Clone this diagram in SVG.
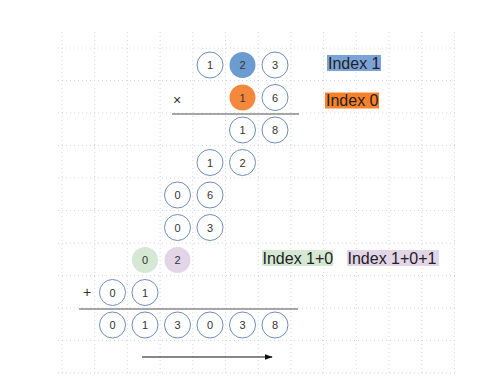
<svg xmlns="http://www.w3.org/2000/svg" width="494" height="385" viewBox="0 0 494 385">
<style>
.grid line{stroke:#d6d6d6;stroke-width:1;stroke-dasharray:1 3}
.c{fill:#fff;stroke:#6c8ebf;stroke-width:1}
.t{font-family:"Liberation Sans",Arial,sans-serif;font-size:11px;fill:#333;text-anchor:middle;dominant-baseline:central}
.lbl{font-family:"Liberation Sans",Arial,sans-serif;font-size:16px;fill:#222}
.sep{stroke:#8a8a8a;stroke-width:1.5}
</style>
<defs>
<marker id="ah" viewBox="0 0 10 10" refX="9" refY="5" markerWidth="8" markerHeight="8" markerUnits="userSpaceOnUse" orient="auto"><path d="M0,1.5 L10,5 L0,8.5 Z" fill="#111"/></marker>
</defs>
<rect width="494" height="385" fill="#fff"/>
<g class="grid">
<line x1="62" y1="32" x2="62" y2="374"/><line x1="94.7" y1="32" x2="94.7" y2="374"/><line x1="127.4" y1="32" x2="127.4" y2="374"/><line x1="160.1" y1="32" x2="160.1" y2="374"/><line x1="192.8" y1="32" x2="192.8" y2="374"/><line x1="225.5" y1="32" x2="225.5" y2="374"/><line x1="258.2" y1="32" x2="258.2" y2="374"/><line x1="290.9" y1="32" x2="290.9" y2="374"/><line x1="323.6" y1="32" x2="323.6" y2="374"/><line x1="356.3" y1="32" x2="356.3" y2="374"/><line x1="389" y1="32" x2="389" y2="374"/><line x1="421.7" y1="32" x2="421.7" y2="374"/><line x1="454.4" y1="32" x2="454.4" y2="374"/>
<line x1="58" y1="48" x2="456" y2="48"/><line x1="58" y1="80.5" x2="456" y2="80.5"/><line x1="58" y1="113" x2="456" y2="113"/><line x1="58" y1="145.5" x2="456" y2="145.5"/><line x1="58" y1="178" x2="456" y2="178"/><line x1="58" y1="210.5" x2="456" y2="210.5"/><line x1="58" y1="243" x2="456" y2="243"/><line x1="58" y1="275.5" x2="456" y2="275.5"/><line x1="58" y1="308" x2="456" y2="308"/><line x1="58" y1="340.5" x2="456" y2="340.5"/><line x1="58" y1="373" x2="456" y2="373"/>
</g>
<g id="connectors">
<line class="sep" x1="172" y1="114" x2="299" y2="114"/>
<line class="sep" x1="79" y1="309" x2="298" y2="309"/>
<line x1="142" y1="357" x2="272" y2="357" stroke="#111" stroke-width="1" marker-end="url(#ah)"/>
</g>
<g id="row1">
<circle class="c" cx="210" cy="65" r="13"/><text class="t" x="210" y="65">1</text>
<circle cx="242.5" cy="65" r="13" fill="#6c9bd2"/><text class="t" x="242.5" y="65">2</text>
<circle class="c" cx="275" cy="65" r="13"/><text class="t" x="275" y="65">3</text>
</g>
<g id="row2">
<text class="t" x="177" y="100" style="font-size:14px">×</text>
<circle cx="242.5" cy="97.5" r="13" fill="#f5883c"/><text class="t" x="242.5" y="97.5">1</text>
<circle class="c" cx="275" cy="97.5" r="13"/><text class="t" x="275" y="97.5">6</text>
</g>
<g id="row3">
<circle class="c" cx="242.5" cy="130" r="13"/><text class="t" x="242.5" y="130">1</text>
<circle class="c" cx="275" cy="130" r="13"/><text class="t" x="275" y="130">8</text>
</g>
<g id="row4">
<circle class="c" cx="210" cy="162.5" r="13"/><text class="t" x="210" y="162.5">1</text>
<circle class="c" cx="242.5" cy="162.5" r="13"/><text class="t" x="242.5" y="162.5">2</text>
</g>
<g id="row5">
<circle class="c" cx="177.5" cy="195" r="13"/><text class="t" x="177.5" y="195">0</text>
<circle class="c" cx="210" cy="195" r="13"/><text class="t" x="210" y="195">6</text>
</g>
<g id="row6">
<circle class="c" cx="177.5" cy="227.5" r="13"/><text class="t" x="177.5" y="227.5">0</text>
<circle class="c" cx="210" cy="227.5" r="13"/><text class="t" x="210" y="227.5">3</text>
</g>
<g id="row7">
<circle cx="145" cy="260" r="13" fill="#d5e8d4"/><text class="t" x="145" y="260">0</text>
<circle cx="177.5" cy="260" r="13" fill="#e1d5e7"/><text class="t" x="177.5" y="260">2</text>
</g>
<g id="row8">
<text class="t" x="87" y="292" style="font-size:14px">+</text>
<circle class="c" cx="112.5" cy="292.5" r="13"/><text class="t" x="112.5" y="292.5">0</text>
<circle class="c" cx="145" cy="292.5" r="13"/><text class="t" x="145" y="292.5">1</text>
</g>
<g id="result">
<circle class="c" cx="112.5" cy="325" r="13"/><text class="t" x="112.5" y="325">0</text>
<circle class="c" cx="145" cy="325" r="13"/><text class="t" x="145" y="325">1</text>
<circle class="c" cx="177.5" cy="325" r="13"/><text class="t" x="177.5" y="325">3</text>
<circle class="c" cx="210" cy="325" r="13"/><text class="t" x="210" y="325">0</text>
<circle class="c" cx="242.5" cy="325" r="13"/><text class="t" x="242.5" y="325">3</text>
<circle class="c" cx="275" cy="325" r="13"/><text class="t" x="275" y="325">8</text>
</g>
<g id="label-index1">
<rect x="327" y="55" width="54" height="16" fill="#7ba3d8"/>
<text class="lbl" x="328" y="68.5">Index 1</text>
</g>
<g id="label-index0">
<rect x="325" y="92.5" width="54" height="16" fill="#fa8128"/>
<text class="lbl" x="326" y="106">Index 0</text>
</g>
<g id="label-index10">
<rect x="262" y="250" width="71" height="16" fill="#d5e8d4"/>
<text class="lbl" x="262.5" y="263.5">Index 1+0</text>
</g>
<g id="label-index101">
<rect x="347" y="250" width="92" height="16" fill="#e1d5e7"/>
<text class="lbl" x="347.5" y="263.5">Index 1+0+1</text>
</g>
</svg>
